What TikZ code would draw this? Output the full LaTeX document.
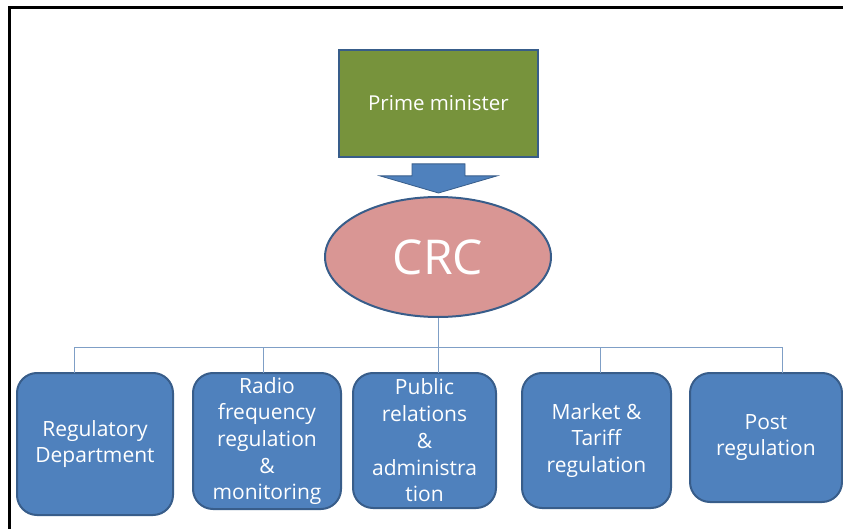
\documentclass[tikz,border=0pt]{standalone}
\usepackage{fontspec}
\setmainfont{Open Sans}
\usetikzlibrary{shapes.geometric,calc}
\definecolor{olive}{HTML}{77933C}
\definecolor{pinkfill}{HTML}{D99694}
\definecolor{bluefill}{HTML}{4F81BD}
\definecolor{blueline}{HTML}{385D8A}
\definecolor{connline}{HTML}{7F9FC6}
\tikzset{
  dept/.style={draw=blueline, line width=2pt, fill=bluefill, rounded corners=20pt,
    text=white, align=center, inner sep=0pt,
    font=\fontsize{21}{26.7}\selectfont},
  conn/.style={draw=connline, line width=1pt},
}
\begin{document}
\begin{tikzpicture}[x=1pt,y=-1pt]
\useasboundingbox (0,0) rectangle (843,529);
% frame (only top and left edges visible)
\draw[line width=3pt] (9.5,529) -- (9.5,8) -- (843,8);
% Prime minister
\node[draw=blueline, line width=1.8pt, fill=olive, minimum width=199pt, minimum height=107pt,
  inner sep=0pt, text=white, font=\fontsize{20.5}{24}\selectfont] (pm) at (438.5,103.5) {Prime minister};
% CRC
\node[ellipse, draw=blueline, line width=2pt, fill=pinkfill, minimum width=226pt, minimum height=120pt,
  inner sep=0pt, text=white, font=\fontsize{48}{52}\selectfont] (crc) at (438,257) {CRC};
% block arrow
\fill[bluefill, draw=blueline, line width=0.8pt]
  ($(pm.south)+(-26.5,6)$) -- ($(pm.south)+(26.5,6)$) -- ($(pm.south)+(26.5,18)$)
  -- ($(pm.south)+(58.5,18)$) -- ($(crc.north)+(0.5,-3)$) -- ($(pm.south)+(-58.5,18)$)
  -- ($(pm.south)+(-26.5,18)$) -- cycle;
% departments
\node[dept, minimum width=156pt, minimum height=142pt] (d1) at (95,444) {Regulatory\\Department};
\node[dept, minimum width=148pt, minimum height=136pt] (d2) at (267,441) {Radio\\frequency\\regulation\\\&\\monitoring};
\node[dept, minimum width=143pt, minimum height=135pt] (d3) at (424.5,440.5) {Public\\relations\\\&\\administra\\tion};
\node[dept, minimum width=149pt, minimum height=135pt] (d4) at (596.5,440.5) {Market \&\\Tariff\\regulation};
\node[dept, minimum width=152pt, minimum height=129pt] (d5) at (766,437.5) {Post\\regulation};
% connection points
\coordinate (bus) at (438,347);
\coordinate (t1) at (74,373);
\coordinate (t2) at (263,373);
\coordinate (t3) at (438,373);
\coordinate (t4) at (600,373);
\coordinate (t5) at (782,373);
\draw[conn] (crc.south) -- (bus);
\draw[conn] (t1) |- (bus);
\draw[conn] (t2) |- (bus);
\draw[conn] (bus) -- (t3);
\draw[conn] (t4) |- (bus);
\draw[conn] (t5) |- (bus);
\end{tikzpicture}
\end{document}
